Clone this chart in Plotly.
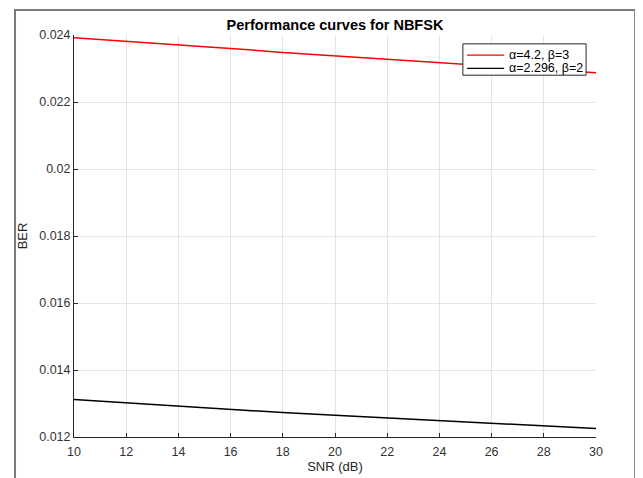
import plotly.graph_objects as go

snr_db = [10, 12, 14, 16, 18, 20, 22, 24, 26, 28, 30]
ber_a42_b3 = [0.02392, 0.02382, 0.02372, 0.02360, 0.02348, 0.02338,
              0.02327, 0.02317, 0.02307, 0.02297, 0.02287]
ber_a2296_b2 = [0.013117, 0.013016, 0.012926, 0.012827, 0.012729, 0.012651,
                0.012568, 0.012490, 0.012409, 0.012329, 0.012251]
series_names = ["α=4.2, β=3", "α=2.296, β=2"]
series_colors = ["#ff0000", "#000000"]
x_ticks = [10, 12, 14, 16, 18, 20, 22, 24, 26, 28, 30]
y_ticks = [0.012, 0.014, 0.016, 0.018, 0.020, 0.022, 0.024]
y_tick_labels = ["0.012", "0.014", "0.016", "0.018", "0.02", "0.022", "0.024"]

FONT = "Liberation Sans, Arial"

fig = go.Figure()
for ys, name, col in zip([ber_a42_b3, ber_a2296_b2], series_names, series_colors):
    fig.add_trace(go.Scatter(x=snr_db, y=ys, mode="lines", name=name,
                             line=dict(color=col, width=1.5), showlegend=False))

axis_common = dict(showgrid=True, gridcolor="#e3e3e3", gridwidth=1,
                   ticks="inside", ticklen=4, tickcolor="#262626",
                   showline=True, linecolor="#262626", linewidth=1,
                   mirror=False, zeroline=False,
                   tickfont=dict(family=FONT, size=12.5, color="#333333"))

fig.update_xaxes(range=[10, 30], tickvals=x_ticks, ticklabelstandoff=3,
                 title=dict(text="SNR (dB)", standoff=0,
                            font=dict(family=FONT, size=13, color="#262626")),
                 **axis_common)
fig.update_yaxes(range=[0.012, 0.024], tickvals=y_ticks, ticktext=y_tick_labels,
                 title=dict(text="BER", standoff=8,
                            font=dict(family=FONT, size=13, color="#262626")),
                 **axis_common)

# manual MATLAB-style legend box (paper coordinates)
shapes = [
    dict(type="rect", xref="paper", yref="paper",
         x0=-0.113, x1=1.075, y0=-0.12, y1=1.062,
         line=dict(color="#7a7a7a", width=2), fillcolor="rgba(0,0,0,0)", layer="below"),
    dict(type="rect", xref="paper", yref="paper",
         x0=0.745, x1=0.981, y0=0.900, y1=0.978,
         line=dict(color="#262626", width=1), fillcolor="white", layer="above"),
]
annotations = []
row_y = [0.950, 0.917]
for name, col, yy in zip(series_names, series_colors, row_y):
    shapes.append(dict(type="line", xref="paper", yref="paper",
                       x0=0.753, x1=0.824, y0=yy, y1=yy,
                       line=dict(color=col, width=1.2), layer="above"))
    annotations.append(dict(text=name, xref="paper", yref="paper", x=0.829, y=yy,
                            xanchor="left", yanchor="middle", showarrow=False,
                            font=dict(family=FONT, size=12.5, color="#000000")))

fig.update_layout(
    width=643, height=478,
    margin=dict(l=66, r=55, t=27, b=49),
    paper_bgcolor="white", plot_bgcolor="white",
    title=dict(text="<b>Performance curves for NBFSK</b>", x=0.5, xanchor="center",
               xref="paper", y=0.964, yanchor="middle",
               font=dict(family=FONT, size=14.5, color="#000000")),
    showlegend=False,
    shapes=shapes,
    annotations=annotations,
)

fig.write_html("out.html")
